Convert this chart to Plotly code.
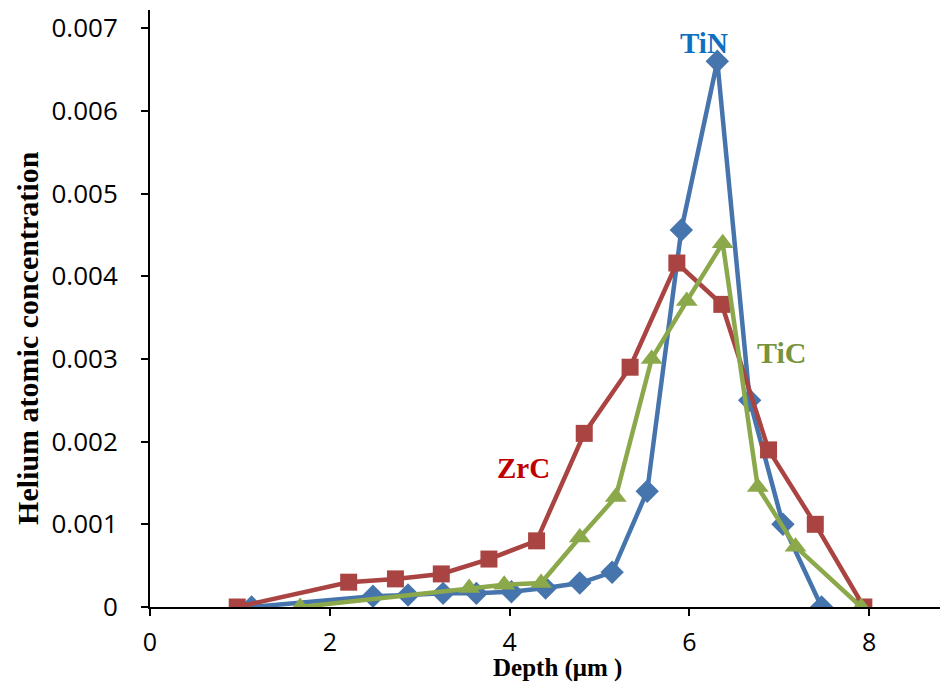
import plotly.graph_objects as go

# Data
tin_depth = [1.13, 2.48, 2.87, 3.26, 3.63, 4.02, 4.40, 4.78, 5.14, 5.53, 5.91, 6.31, 6.67, 7.04, 7.47]
tin_conc = [0.0, 0.00013, 0.000145, 0.000165, 0.000165, 0.000185, 0.00023, 0.00029, 0.00042, 0.0014, 0.00456, 0.0066, 0.0025, 0.001, 0.0]

zrc_depth = [0.97, 2.21, 2.73, 3.24, 3.77, 4.30, 4.83, 5.34, 5.86, 6.36, 6.88, 7.40, 7.94]
zrc_conc = [0.0, 0.0003, 0.00034, 0.0004, 0.00058, 0.0008, 0.0021, 0.0029, 0.00416, 0.00366, 0.0019, 0.001, 0.0]

tic_depth = [1.67, 3.55, 3.94, 4.35, 4.78, 5.18, 5.58, 5.97, 6.37, 6.76, 7.18, 7.91]
tic_conc = [0.0, 0.00023, 0.00027, 0.00029, 0.00084, 0.00133, 0.003, 0.0037, 0.0044, 0.00145, 0.00073, 0.0]

x_ticks = [0, 2, 4, 6, 8]
y_ticks = [0, 0.001, 0.002, 0.003, 0.004, 0.005, 0.006, 0.007]
y_tick_text = ["0", "0.001", "0.002", "0.003", "0.004", "0.005", "0.006", "0.007"]

series_labels = ["TiN", "ZrC", "TiC"]

blue = "#4674AD"
red = "#A94442"
green = "#8BA84B"

fig = go.Figure()
fig.add_trace(go.Scatter(x=tin_depth, y=tin_conc, mode="lines+markers", name="TiN",
                         line=dict(color=blue, width=4.5),
                         marker=dict(symbol="diamond", size=18, color=blue)))
fig.add_trace(go.Scatter(x=zrc_depth, y=zrc_conc, mode="lines+markers", name="ZrC",
                         line=dict(color=red, width=4.5),
                         marker=dict(symbol="square", size=17, color=red)))
fig.add_trace(go.Scatter(x=tic_depth, y=tic_conc, mode="lines+markers", name="TiC",
                         line=dict(color=green, width=4.5),
                         marker=dict(symbol="triangle-up", size=19, color=green)))

tick_font = dict(family="Open Sans, Arial, sans-serif", size=26, color="#000000")
x_tick_font = dict(family="Open Sans, Arial, sans-serif", size=25, color="#000000")
title_font_family = "Liberation Serif, Times New Roman, serif"

fig.update_layout(
    width=940, height=676,
    margin=dict(l=142, r=0, t=2, b=77),
    paper_bgcolor="white", plot_bgcolor="white",
    showlegend=False,
    xaxis=dict(range=[0, 8.876], tickvals=x_ticks, ticktext=[str(v) for v in x_ticks],
               showline=True, linecolor="black", linewidth=2, showgrid=False, zeroline=False,
               ticks="outside", ticklen=7, tickwidth=1.5, tickcolor="black",
               tickfont=x_tick_font, ticklabelstandoff=5, automargin=False),
    yaxis=dict(range=[0, 0.00722], tickvals=y_ticks, ticktext=y_tick_text,
               showline=True, linecolor="black", linewidth=2, showgrid=False, zeroline=False,
               ticks="outside", ticklen=7, tickwidth=1.5, tickcolor="black",
               tickfont=tick_font, ticklabelstandoff=18, automargin=False),
    annotations=[
        dict(text="<b>Helium atomic concentration</b>", xref="paper", yref="paper",
             x=-0.153, y=0.4506, textangle=-90, showarrow=False,
             font=dict(family=title_font_family, size=30, color="black"),
             xanchor="center", yanchor="middle"),
        dict(text="<b>Depth (μm )</b>", xref="paper", yref="paper",
             x=0.511, y=-0.129, showarrow=False,
             font=dict(family=title_font_family, size=25, color="black"),
             xanchor="center", yanchor="bottom"),
        dict(text="<b>" + series_labels[0] + "</b>", x=6.16, y=0.00682, showarrow=False,
             font=dict(family=title_font_family, size=29, color="#1070C0")),
        dict(text="<b>" + series_labels[1] + "</b>", x=4.15, y=0.00168, showarrow=False,
             font=dict(family=title_font_family, size=29, color="#C00000")),
        dict(text="<b>" + series_labels[2] + "</b>", x=7.02, y=0.00308, showarrow=False,
             font=dict(family=title_font_family, size=30, color="#77933C")),
    ],
)

fig.write_html("out.html")
